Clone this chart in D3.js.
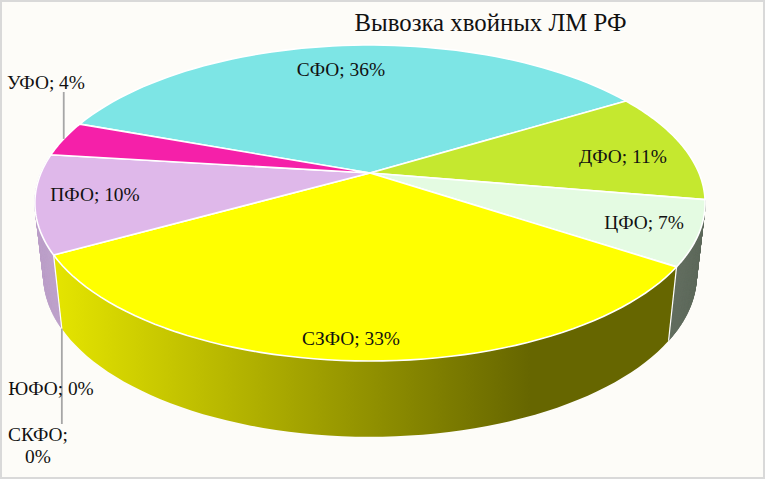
<!DOCTYPE html>
<html lang="ru">
<head>
  <meta charset="UTF-8">
  <title>Вывозка хвойных ЛМ РФ</title>
  <script src="https://d3js.org/d3.v7.min.js"></script>
  <style>
    html, body { margin: 0; padding: 0; background: #fff; }
    svg { display: block; }
    text { font-family: 'Liberation Serif', serif; fill: #111; }
  </style>
</head>
<body>
  <svg width="765" height="479"></svg>
  <script>
    const chartTitle = "Вывозка хвойных ЛМ РФ";
    const categories = ["СФО", "ДФО", "ЦФО", "СЗФО", "ЮФО", "СКФО", "ПФО", "УФО"];
    const values = [35.8, 11.4, 6.6, 32.6, 0, 0, 10.1, 3.6];
    const colors = ["#7de5e5", "#c5e82f", "#e4fbe2", "#ffff00", "#c0a0d0", "#c0a0d0", "#dfb8ea", "#f520a9"];
    const wallColors = { "ЦФО": "#5e6a5c", "ПФО": "#bb9fc9" };

    const svg = d3.select("svg");
    const cx = 370, cy = 173;
    const radius = 329, squash = 152.3, persp = 0.19;

    // tilted disc, near edge bigger
    const project = a => {
      const X = Math.sin(a), Y = -Math.cos(a), w = 1 - persp * Y;
      return [radius * X / w, squash * Y / w];
    };
    const topRim = a => { const p = project(a); return [cx + p[0], cy + p[1]]; };
    const bottomRim = a => { const p = project(a); return [cx + p[0] * 0.974, cy + 72 + p[1] * 1.02]; };

    const pie = d3.pie().sort(null).startAngle(-70 * Math.PI / 180).endAngle(290 * Math.PI / 180);
    const arcs = pie(values).map((d, i) => ({ ...d, name: categories[i], i }));
    const line = d3.line();
    const fmt = d3.format(".0%");
    const total = d3.sum(values);

    const samples = (a0, a1) => d3.range(0, 61).map(k => a0 + (a1 - a0) * k / 60);

    svg.append("rect").attr("width", 765).attr("height", 479).attr("fill", "#d9d9d9");
    svg.append("rect").attr("x", 2).attr("y", 2).attr("width", 761).attr("height", 475).attr("fill", "#fdfcf8");

    const grad = svg.append("defs").append("linearGradient").attr("id", "wallYellow")
      .attr("gradientUnits", "userSpaceOnUse").attr("x1", 50).attr("x2", 530).attr("y1", 0).attr("y2", 0);
    grad.append("stop").attr("offset", 0).attr("stop-color", "#e6e600");
    grad.append("stop").attr("offset", 1).attr("stop-color", "#666600");

    // side walls, one thin quad per rim step so the silhouette stays tangent
    const gWall = svg.append("g");
    arcs.filter(d => wallColors[d.name]).forEach(d => {
      d3.pairs(samples(d.startAngle, d.endAngle)).forEach(([a, b]) => {
        gWall.append("path")
          .attr("d", line([topRim(a), topRim(b), bottomRim(b), bottomRim(a)]) + "Z")
          .attr("fill", wallColors[d.name])
          .attr("stroke", wallColors[d.name]).attr("stroke-width", 0.7);
      });
    });
    // the big near wall has a gradient, drawn as one piece
    arcs.filter(d => d.name === "СЗФО").forEach(d => {
      const pts = samples(d.startAngle, d.endAngle);
      gWall.append("path")
        .attr("d", line([...pts.map(topRim), ...pts.slice().reverse().map(bottomRim)]) + "Z")
        .attr("fill", "url(#wallYellow)");
      [d.startAngle, d.endAngle].forEach(a => {
        gWall.append("path").attr("d", line([topRim(a), bottomRim(a)]))
          .attr("stroke", "#fff").attr("stroke-width", 1.2);
      });
    });

    svg.append("g").selectAll("path").data(arcs.filter(d => d.value > 0)).join("path")
      .attr("d", d => line([[cx, cy], ...samples(d.startAngle, d.endAngle).map(topRim)]) + "Z")
      .attr("fill", d => colors[d.i])
      .attr("stroke", "#fff").attr("stroke-width", 1.6).attr("stroke-linejoin", "round");

    // leader lines
    const leader = [[topRim((arcs[7].startAngle + arcs[7].endAngle) / 2), 92], [bottomRim(arcs[4].startAngle), 424]];
    svg.append("g").selectAll("line").data(leader).join("line")
      .attr("x1", d => d[0][0]).attr("x2", d => d[0][0])
      .attr("y1", d => d[0][1]).attr("y2", d => d[1])
      .attr("stroke", "#a6a6a6").attr("stroke-width", 1.8);

    const labelPos = [[341, 76], [623, 163], [644, 229], [351, 345], [51, 395], [38, 441], [95, 201], [46, 89]];
    const labels = svg.append("g").attr("font-size", 19.4).attr("text-anchor", "middle");
    arcs.forEach(d => {
      const t = labels.append("text").attr("x", labelPos[d.i][0]).attr("y", labelPos[d.i][1]);
      const pct = fmt(d.value / total);
      if (d.name === "СКФО") {
        t.append("tspan").attr("x", labelPos[d.i][0]).text(d.name + ";");
        t.append("tspan").attr("x", labelPos[d.i][0]).attr("dy", 22).text(pct);
      } else {
        t.text(d.name + "; " + pct);
      }
    });

    svg.append("text").attr("x", 490.5).attr("y", 31).attr("text-anchor", "middle")
      .attr("font-size", 24.8).text(chartTitle);
  </script>
</body>
</html>
